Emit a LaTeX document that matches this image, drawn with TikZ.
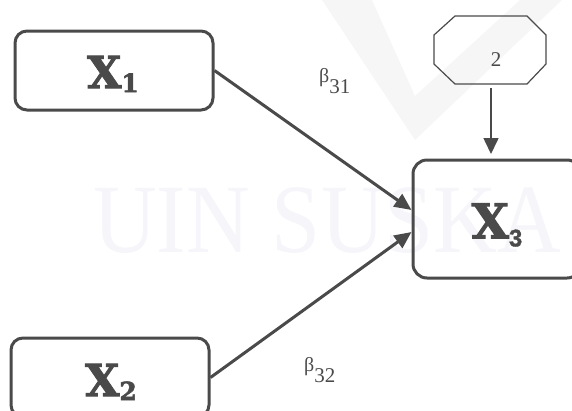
\documentclass[tikz,border=0pt]{standalone}
\usepackage{fontspec}
\setmainfont{Liberation Serif}
\newfontfamily\slabheavy{DejaVu Serif Bold}[FakeBold=2.2]
\newfontfamily\sansheavy{Liberation Sans Bold}[FakeBold=1.5]
\usetikzlibrary{arrows.meta}
\definecolor{ink}{HTML}{4A4A4A}
\definecolor{wmtext}{HTML}{F5F5FA}
\definecolor{wmlogo}{HTML}{F6F6F6}
\tikzset{
  varbox/.style={draw=ink, line width=3pt, rounded corners=12pt, minimum width=198pt, minimum height=79pt, inner sep=0pt},
  conn/.style={draw=ink, line width=3pt, -{Triangle[length=17pt,width=15pt]}},
  thinconn/.style={draw=ink, line width=1.6pt, -{Triangle[length=16pt,width=15pt]}},
  errbox/.style={draw=ink, line width=1.2pt},
  coef/.style={anchor=base west, text=ink, inner sep=0pt},
  xlab/.style={text=ink, inner sep=0pt}
}
\begin{document}
\begin{tikzpicture}[x=1pt,y=-1pt]
\useasboundingbox (0,0) rectangle (572,410);
% faint watermark
\fill[wmlogo] (322,0) -- (415,140) -- (562,0) -- (520,0) -- (415,96) -- (372,0) -- cycle;
\node[anchor=base west, text=wmtext, inner sep=0pt, font=\fontsize{98}{98}\selectfont] (wm) at (93,252) {\scalebox{0.9}[1]{UIN SUSKA}};
% variable boxes
\node[varbox] (x1) at (114,70.5) {};
\node[varbox] (x2) at (110,377.5) {};
\node[varbox, minimum width=168pt, minimum height=118pt, rounded corners=14pt] (x3) at (497,219) {};
\node[xlab] (t1) at (113,74) {\slabheavy\fontsize{44}{44}\selectfont X\raisebox{-4pt}{\fontsize{25}{25}\selectfont 1}};
\node[xlab] (t2) at (111,382) {\slabheavy\fontsize{44}{44}\selectfont X\raisebox{-4pt}{\fontsize{25}{25}\selectfont 2}};
\node[xlab] (t3) at (497,225) {\slabheavy\fontsize{48}{48}\selectfont X\raisebox{-8pt}{\sansheavy\fontsize{24}{24}\selectfont 3}};
% error term
\draw[errbox] (455,16) -- (527,16) -- (546,35) -- (546,64) -- (527,84) -- (455,84) -- (434,64) -- (434,35) -- cycle;
\node[text=ink, inner sep=0pt, font=\fontsize{21}{21}\selectfont] (e) at (496,60) {2};
\coordinate (eb) at (491,88);
\coordinate (et) at (491,154);
% connectors
\draw[conn] (x1.east) -- ([yshift=9pt]x3.west);
\draw[conn] (x2.east) -- ([yshift=-13pt]x3.west);
\draw[thinconn] (eb) -- (et);
% coefficients
\node[coef] (b31) at (319,82) {\fontsize{20}{20}\selectfont β\raisebox{-11pt}{\fontsize{21}{21}\selectfont 31}};
\node[coef] (b32) at (304,371) {\fontsize{20}{20}\selectfont β\raisebox{-11pt}{\fontsize{21}{21}\selectfont 32}};
\end{tikzpicture}
\end{document}
